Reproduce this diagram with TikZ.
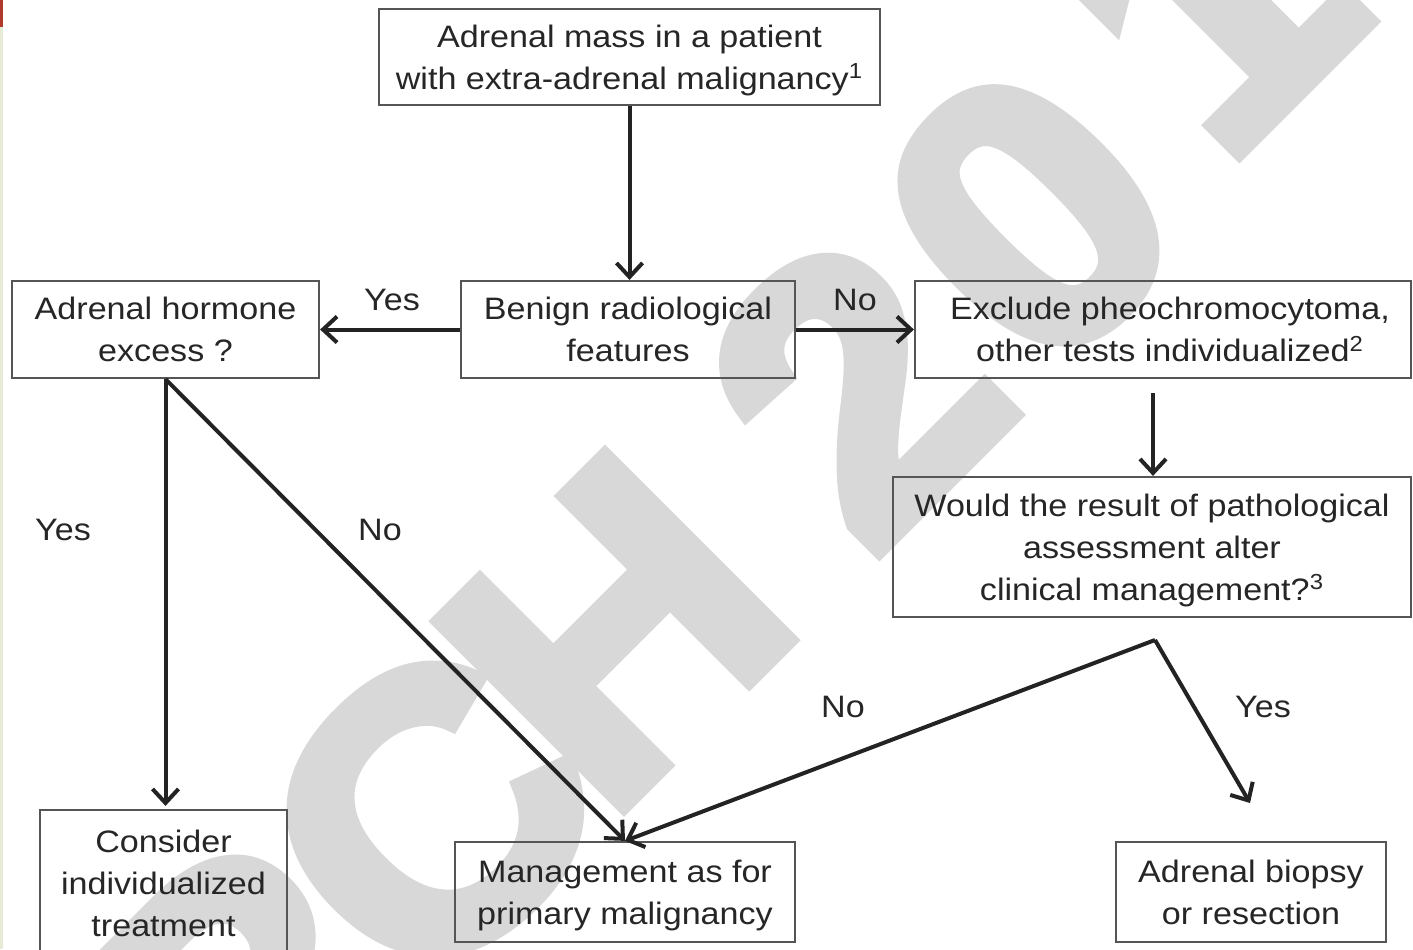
\documentclass[tikz,border=0pt]{standalone}
\usepackage{fontspec}
\setmainfont{Liberation Sans}[FakeStretch=1.1]
\newfontfamily\wmfont{Liberation Sans Bold}[FakeBold=4,FakeStretch=1.05]
\usetikzlibrary{arrows.meta}
\definecolor{txt}{RGB}{38,38,38}
\definecolor{boxgray}{RGB}{85,85,85}
\definecolor{linec}{RGB}{35,35,35}
\definecolor{wmgray}{RGB}{216,216,216}
\definecolor{stripgreen}{RGB}{230,235,213}
\definecolor{stripred}{RGB}{176,58,46}
\newcommand{\fs}{\fontsize{15.5}{21}\selectfont}
\tikzset{
  box/.style={draw=boxgray, line width=1.1pt, inner sep=0pt, align=center, text=txt, font=\fs, text depth=0pt},
  lbl/.style={text=txt, font=\fs, inner sep=0pt},
  conn/.style={draw=linec, line width=2pt, -{Straight Barb[length=7pt,width=13pt]}},
  wm/.style={text=wmgray, font=\fontsize{190}{190}\wmfont\bfseries, rotate=45, inner sep=0pt, anchor=base}
}
\begin{document}
\begin{tikzpicture}[x=0.5pt,y=-0.5pt]
\useasboundingbox (0,0) rectangle (1413,949);
\clip (0,0) rectangle (1413,949);
\fill[white] (0,0) rectangle (1413,949);
% watermark
\node[wm] (wR) at (329,1101) {R};
\node[wm] (wC) at (523,907) {C};
\node[wm] (wH) at (707,723) {H};
\node[wm] (w2) at (948,482) {2};
\node[wm] (w0) at (1122,308) {0};
\node[wm] (w1) at (1300,92) {1};
% edge strip
\fill[stripgreen] (0,0) rectangle (3,949);
\fill[stripred] (0,0) rectangle (3,27);
% boxes
\node[box, minimum width=250.5pt, minimum height=48pt] (top) at (629.5,57)
  {Adrenal mass in a patient\\with extra-adrenal malignancy\textsuperscript{1}};
\node[box, minimum width=153.5pt, minimum height=48.5pt] (hormone) at (165.5,329.5)
  {Adrenal hormone\\excess ?};
\node[box, minimum width=167pt, minimum height=48.5pt] (benign) at (628,329.5)
  {Benign radiological\\features};
\node[box, minimum width=248pt, minimum height=48.5pt] (exclude) at (1163,329.5)
  {\hspace*{7pt}Exclude pheochromocytoma,\\\hspace*{7pt}other tests individualized\textsuperscript{2}};
\node[box, minimum width=259pt, minimum height=70pt] (would) at (1152,547)
  {Would the result of pathological\\assessment alter\\clinical management?\textsuperscript{3}};
\node[box, minimum width=123.5pt, minimum height=73pt] (consider) at (163.5,883)
  {Consider\\individualized\\treatment};
\node[box, minimum width=170pt, minimum height=50pt] (management) at (625,892)
  {Management as for\\primary malignancy};
\node[box, minimum width=135pt, minimum height=50pt] (biopsy) at (1251,892)
  {Adrenal biopsy\\or resection};
% labels
\node[lbl] (lyes1) at (392,300) {Yes};
\node[lbl] (lno1) at (855,300) {No};
\node[lbl] (lyes2) at (63,530) {Yes};
\node[lbl] (lno2) at (380,530) {No};
\node[lbl] (lno3) at (843,707) {No};
\node[lbl] (lyes3) at (1263,707) {Yes};
% connectors
\coordinate (exs) at (1153,393);
\coordinate (wb) at (1155,640);
\coordinate (bt) at (1250,803);
\draw[conn] (top.south) -- (top.south |- benign.north);
\draw[conn] (benign) -- (hormone);
\draw[conn] (benign) -- (exclude);
\draw[conn] (exs) -- (exs |- would.north);
\draw[conn, shorten >=1.5pt] (hormone.south) -- (hormone.south |- consider.north);
\draw[conn] (hormone.south) -- (management.north);
\draw[conn] (wb) -- (management.north);
\draw[conn] (wb) -- (bt);
\end{tikzpicture}
\end{document}
